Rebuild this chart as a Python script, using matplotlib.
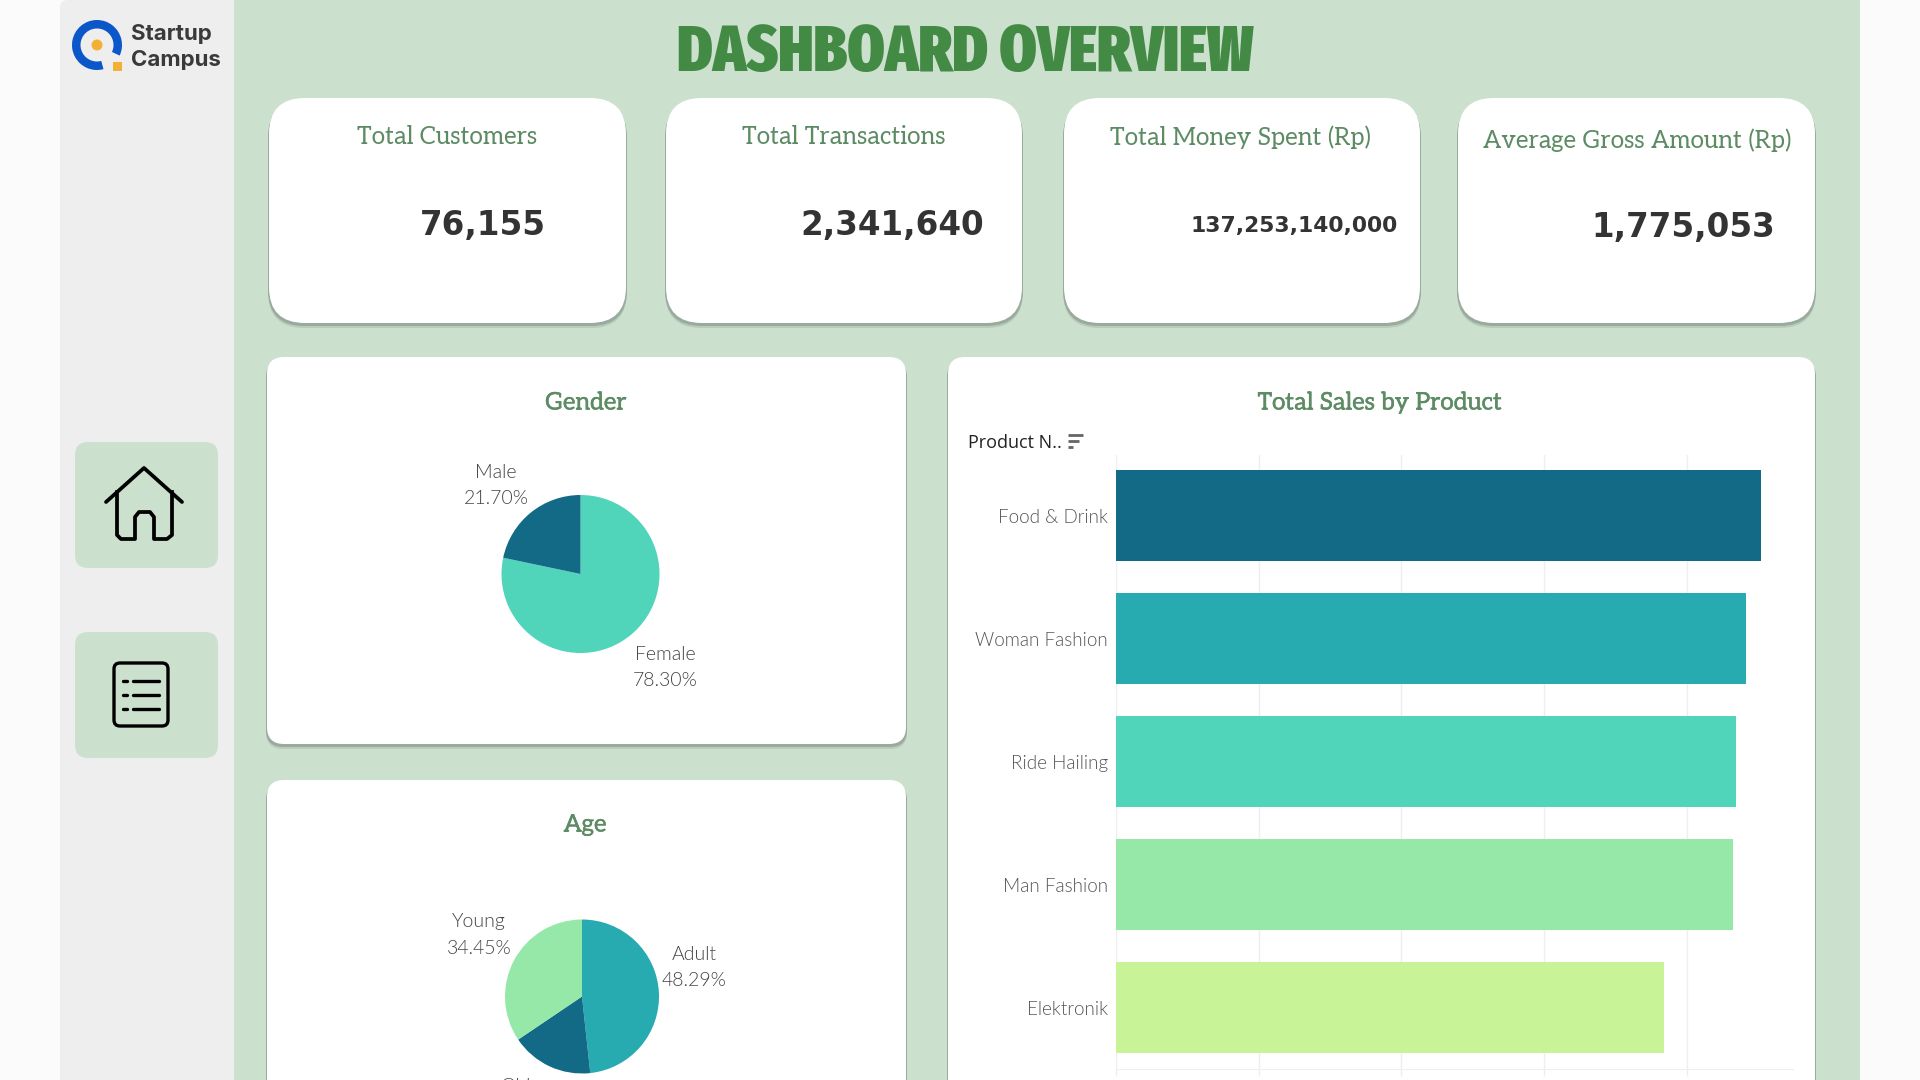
import logging
import matplotlib
matplotlib.use('Agg')
import matplotlib.pyplot as plt
import matplotlib.patheffects as pe
from matplotlib.patches import FancyBboxPatch, Rectangle, Wedge, Circle

logging.getLogger('matplotlib.font_manager').setLevel(logging.ERROR)

# data
card_titles = ['Total Customers', 'Total Transactions', 'Total Money Spent (Rp)', 'Average Gross Amount (Rp)']
card_values = [76155, 2341640, 137253140000, 1775053]
gender_labels = ['Female', 'Male']
gender_share = [78.30, 21.70]
age_labels = ['Adult', 'Old', 'Young']
age_share = [48.29, 17.26, 34.45]
products = ['Food & Drink', 'Woman Fashion', 'Ride Hailing', 'Man Fashion', 'Elektronik']
sales = [22.60, 22.08, 21.73, 21.62, 19.20]  # billions, axis labels are hidden in the original

W, H = 1920, 1080
GREEN = '#cce0ce'
TITLE_GREEN = '#5c8b64'
DARK = '#136a87'
TEAL = '#27aab0'
MINT = '#50d4ba'
LIGHT = '#96e8a9'
LIME = '#c9f397'
SERIF = ['Aleo', 'DejaVu Serif']
LABEL = ['Lato', 'DejaVu Sans']

fig = plt.figure(figsize=(19.2, 10.8), dpi=100, facecolor='#fbfbfb')

bg = fig.add_axes([0, 0, 1, 1])
bg.set_xlim(0, W)
bg.set_ylim(H, 0)
bg.axis('off')


def box(x0, y0, x1, y1, r, color, z=1):
    p = FancyBboxPatch((x0, y0), x1 - x0, y1 - y0, boxstyle='round,pad=0,rounding_size=%d' % r,
                       fc=color, ec='none', zorder=z)
    bg.add_patch(p)


def card(x0, y0, x1, y1, r):
    # soft shadow under the white box
    box(x0 - 1, y0 + 5, x1 + 1, y1 + 5, r, '#b9cbbc', 2)
    box(x0 - 1, y0 + 3, x1 + 1, y1 + 3, r, '#98ab9c', 2)
    box(x0, y0, x1, y1, r, 'white', 3)


def axes_at(x0, y0, x1, y1):
    return fig.add_axes([x0 / W, 1 - y1 / H, (x1 - x0) / W, (y1 - y0) / H])


def pie_at(cx, cy, r, values, colors):
    ax = axes_at(cx - r, cy - r, cx + r, cy + r)
    ax.pie(values, colors=colors, startangle=90, counterclock=False, radius=1)
    ax.set_xlim(-1, 1)
    ax.set_ylim(-1, 1)
    return ax


def pie_label(x, y1, y2, name, share):
    bg.text(x, y1, name, ha='center', va='center', fontsize=14, family=LABEL, fontweight=300,
            color='#444444', zorder=5)
    if y2 is not None:
        bg.text(x, y2, '%.2f%%' % share, ha='center', va='center', fontsize=14, family=LABEL,
                fontweight=300, color='#444444', zorder=5)


# page background and sidebar
box(60, 0, 300, 1140, 8, '#eeeeee', 0)
bg.add_patch(Rectangle((233.5, 0), 1860 - 233.5, H, fc=GREEN, ec='none', zorder=1))

bg.text(965, 53, 'DASHBOARD OVERVIEW', ha='center', va='center', fontsize=46.5, fontweight=900,
        family=['Fira Sans Extra Condensed', 'Liberation Sans'], color='#438a45', zorder=5)

# logo
bg.add_patch(Wedge((97, 45), 25, 75, 385, width=8.5, fc='#0b57c9', ec='none', zorder=5))
bg.add_patch(Circle((97, 45), 5.5, fc='#f2b134', ec='none', zorder=5))
bg.add_patch(Rectangle((113, 62), 9, 9, fc='#f2b134', ec='none', zorder=5))
bg.text(131, 34, 'Startup', ha='left', va='center', fontsize=16, fontweight='bold', family=['Inter', 'DejaVu Sans'],
        color='#3a3a3a', zorder=5)
bg.text(131, 60, 'Campus', ha='left', va='center', fontsize=16, fontweight='bold', family=['Inter', 'DejaVu Sans'],
        color='#3a3a3a', zorder=5)

# sidebar buttons
box(75, 442, 218, 568, 13, GREEN, 2)
box(75, 632, 218, 758, 13, GREEN, 2)

bg.plot([106, 144, 182], [502, 468, 502], color='black', lw=2.7, solid_capstyle='round', zorder=5)
bg.plot([117, 117, 121, 135, 135, 139, 150, 154, 154, 167, 172, 172],
        [492, 535, 539, 539, 517, 512, 512, 517, 539, 539, 535, 492],
        color='black', lw=2.7, solid_joinstyle='round', zorder=5)

p = FancyBboxPatch((114, 663), 54, 63, boxstyle='round,pad=0,rounding_size=6', fc='none', ec='black',
                   lw=2.4, zorder=5)
bg.add_patch(p)
for y in [681, 695, 709]:
    bg.plot([123, 127], [y, y], color='black', lw=2.4, solid_capstyle='round', zorder=5)
    bg.plot([133, 159], [y, y], color='black', lw=2.4, solid_capstyle='round', zorder=5)

# KPI cards
card_x = [(269, 626), (666, 1022), (1064, 1420), (1458, 1815)]
title_xy = [(447, 137), (844, 137), (1240, 137), (1637, 140)]
value_xy = [(546, 225), (984, 225), (1398, 226), (1775, 227)]
value_size = [23.5, 23.5, 15.7, 23.5]
for i in range(4):
    card(card_x[i][0], 98, card_x[i][1], 323, 36)
    bg.text(title_xy[i][0], title_xy[i][1], card_titles[i], ha='center', va='center', fontsize=17.5,
            family=SERIF, color=TITLE_GREEN, zorder=5)
    bg.text(value_xy[i][0], value_xy[i][1], format(card_values[i], ','), ha='right', va='center',
            fontsize=value_size[i], fontweight='bold', color='#333333', zorder=5)

# chart panels
card(267, 357, 906, 744, 17)
card(267, 780, 906, 1140, 17)
card(948, 357, 1815, 1140, 17)
for x, y, s in [(586, 402, 'Gender'), (585, 824, 'Age'), (1380, 402, 'Total Sales by Product')]:
    t = bg.text(x, y, s, ha='center', va='center', fontsize=17.4, family=SERIF, color=TITLE_GREEN, zorder=5)
    t.set_path_effects([pe.withStroke(linewidth=0.3, foreground=TITLE_GREEN)])

# pies
pie_at(580.5, 574, 79, gender_share, [MINT, DARK])
pie_label(496, 472, 499, gender_labels[1], gender_share[1])
pie_label(665, 654, 681, gender_labels[0], gender_share[0])

pie_at(582, 996.5, 77, age_share, [TEAL, DARK, LIGHT])
pie_label(694, 954, 980, age_labels[0], age_share[0])
pie_label(479, 921, 948, age_labels[2], age_share[2])
pie_label(516, 1086, None, age_labels[1], age_share[1])

# bars
bar_ax = axes_at(1116, 455, 1793, 1069)
bar_ax.patch.set_alpha(0)
pos = list(range(len(products)))
bar_ax.barh(pos, sales, height=0.74, color=[DARK, TEAL, MINT, LIGHT, LIME], zorder=3)
bar_ax.set_yticks(pos)
bar_ax.set_yticklabels(products, family=LABEL, fontsize=13.6, fontweight=300, color='#555555')
bar_ax.set_xticks([0, 5, 10, 15, 20])
bar_ax.set_xticklabels([])
bar_ax.set_xlim(0, 23.73)
bar_ax.set_ylim(4.5, -0.492)
bar_ax.tick_params(axis='y', length=0, pad=6)
bar_ax.tick_params(axis='x', length=5, width=1, color='#eeeeee')
bar_ax.grid(axis='x', color='#eeeeee', lw=1, zorder=0)
for s in ['top', 'right', 'left']:
    bar_ax.spines[s].set_visible(False)
bar_ax.spines['bottom'].set_color('#eeeeee')

bg.text(968, 443, 'Product N..', ha='left', va='center', fontsize=13, family=['Open Sans', 'DejaVu Sans'],
        color='#222222', zorder=5)
for y, x1 in [(435, 1083), (441, 1079), (447, 1073)]:
    bg.plot([1068, x1], [y, y], color='#666666', lw=2, solid_capstyle='butt', zorder=5)

fig.savefig('out.png', dpi=100, facecolor=fig.get_facecolor())
